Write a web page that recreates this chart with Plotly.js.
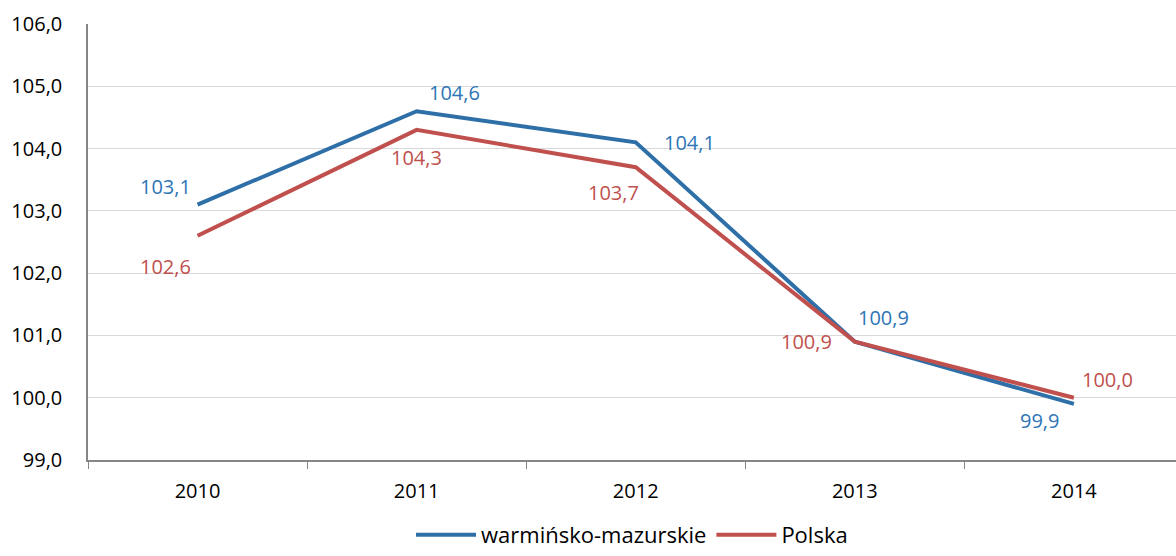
<!DOCTYPE html>
<html><head><meta charset="utf-8">
<script src="https://cdn.plot.ly/plotly-3.0.1.min.js"></script>
<style>html,body{margin:0;padding:0;background:#fff}#c{width:1176px;height:556px}</style>
</head><body><div id="c"></div>
<script>
const years = ['2010','2011','2012','2013','2014'];
const warminsko = [103.1, 104.6, 104.1, 100.9, 99.9];
const polska = [102.6, 104.3, 103.7, 100.9, 100.0];
const yTicks = [99,100,101,102,103,104,105,106];
const seriesNames = ['warmińsko-mazurskie','Polska'];

const blue = '#2e6fa7', red = '#c0504d';
const blueText = '#2e75b6', redText = '#c0504d';
const fnt = 'Open Sans, sans-serif';
const fmt = v => v.toFixed(1).replace('.', ',');

const traces = [
  {x: years, y: warminsko, name: seriesNames[0], type:'scatter', mode:'lines', line:{color:blue, width:4}},
  {x: years, y: polska, name: seriesNames[1], type:'scatter', mode:'lines', line:{color:red, width:4}}
];

const blueShift = [[-32,18],[38,19],[54,0],[29,24],[-34,-17]];
const redShift = [[-32,-31],[0,-28],[-22,-25],[-48,0],[34,18]];
const annotations = [];
years.forEach((yr,i)=>{
  annotations.push({xref:'x', yref:'y', x:i, y:warminsko[i], text:fmt(warminsko[i]), showarrow:false, xshift:blueShift[i][0], yshift:blueShift[i][1], font:{family:fnt, size:20, color:blueText}});
  annotations.push({xref:'x', yref:'y', x:i, y:polska[i], text:fmt(polska[i]), showarrow:false, xshift:redShift[i][0], yshift:redShift[i][1], font:{family:fnt, size:20, color:redText}});
});

const layout = {
  width:1176, height:556,
  margin:{l:88, r:0, t:24, b:96},
  paper_bgcolor:'#fff', plot_bgcolor:'#fff',
  font:{family:fnt, size:20, color:'#000'},
  showlegend:true,
  legend:{orientation:'h', xref:'paper', x:0.5, xanchor:'center', yref:'container', y:0, yanchor:'bottom', font:{family:fnt, size:22, color:'#000'}, itemwidth:60},
  xaxis:{type:'category', range:[-0.5, 4.466], tickson:'boundaries', ticks:'outside', ticklen:7, tickcolor:'#868686', tickwidth:1,
         showline:true, linecolor:'#868686', linewidth:1.5, showgrid:false, zeroline:false, automargin:false,
         tickfont:{family:fnt, size:20, color:'#000'}, ticklabelstandoff:12},
  yaxis:{range:[99,106], tickvals:yTicks, ticktext:yTicks.map(fmt), ticks:'', showline:true, linecolor:'#868686', linewidth:1.5,
         showgrid:true, gridcolor:'#d9d9d9', gridwidth:1, zeroline:false, automargin:false,
         tickfont:{family:fnt, size:20, color:'#000'}, ticklabelstandoff:20},
  annotations: annotations
};
Plotly.newPlot('c', traces, layout, {displayModeBar:false});
</script></body></html>
